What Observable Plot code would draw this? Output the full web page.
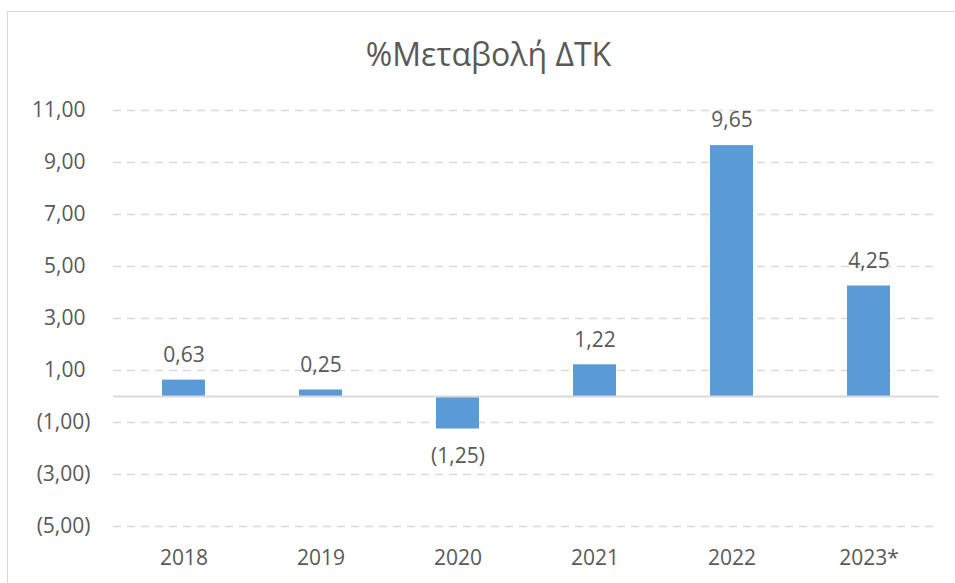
<!DOCTYPE html>
<html>
<head>
<meta charset="utf-8">
<script src="https://cdn.jsdelivr.net/npm/d3@7"></script>
<script src="https://cdn.jsdelivr.net/npm/@observablehq/plot@0.6"></script>
<style>
  html, body { margin: 0; padding: 0; background: #fff; overflow: hidden; }
  #wrap { position: relative; width: 955px; height: 583px; font-family: "Open Sans", sans-serif; }
  #border { position: absolute; left: 7px; top: 11px; width: 1000px; height: 700px; border: 1.5px solid #D9D9D9; box-sizing: border-box; }
  #title { position: relative; height: 88px; text-align: center; color: #595959; font-size: 32px; line-height: 32px; box-sizing: border-box; }
  #title span { position: absolute; left: 0; right: 0; top: 38px; padding-left: 22px; }
  #chart { position: relative; }
</style>
</head>
<body>
<div id="wrap">
  <div id="border"></div>
  <div id="title"><span>%Μεταβολή ΔΤΚ</span></div>
  <div id="chart"></div>
</div>
<script>
const years = ["2018", "2019", "2020", "2021", "2022", "2023*"];
const changes = [0.63, 0.25, -1.25, 1.22, 9.65, 4.25];
const yTicks = [-5, -3, -1, 1, 3, 5, 7, 9, 11];

const data = years.map((y, i) => ({year: y, value: changes[i]}));

const fmt = v => {
  const s = Math.abs(v).toFixed(2).replace(".", ",");
  return v < 0 ? "(" + s + ")" : s;
};

const textColor = "#595959";
const grid = "#D9D9D9";

const plot = Plot.plot({
  width: 955,
  height: 495,
  marginTop: 22,
  marginBottom: 57,
  marginLeft: 113,
  marginRight: 16.5,
  style: {fontFamily: "'Open Sans', sans-serif", fontSize: "21px", color: textColor, background: "transparent"},
  x: {domain: years, paddingInner: 0.6875, paddingOuter: 0.34375, label: null},
  y: {domain: [-5, 11], label: null},
  marks: [
    Plot.ruleY(yTicks, {stroke: grid, strokeWidth: 1.5, strokeDasharray: "8,6"}),
    Plot.barY(data, {x: "year", y: "value", fill: "#5B9BD5"}),
    Plot.ruleY([0], {stroke: grid, strokeWidth: 1.8}),
    Plot.axisY(yTicks.filter(v => v >= 0), {tickSize: 0, tickPadding: 28, tickFormat: fmt, fill: textColor, fontSize: 21}),
    Plot.axisY(yTicks.filter(v => v < 0), {tickSize: 0, tickPadding: 23, tickFormat: fmt, fill: textColor, fontSize: 21}),
    Plot.axisX({tickSize: 0, tickPadding: 24, fill: textColor, fontSize: 21}),
    Plot.text(data.filter(d => d.value >= 0), {x: "year", y: "value", text: d => fmt(d.value), dy: -25, lineAnchor: "middle", fill: textColor, fontSize: 21}),
    Plot.text(data.filter(d => d.value < 0), {x: "year", y: "value", text: d => fmt(d.value), dy: 27, lineAnchor: "middle", fill: textColor, fontSize: 21})
  ]
});
document.getElementById("chart").appendChild(plot);
</script>
</body>
</html>
